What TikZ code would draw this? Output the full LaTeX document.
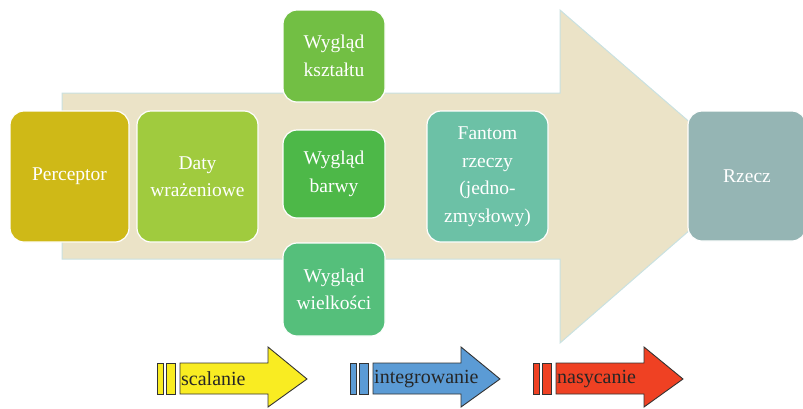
\documentclass[tikz,border=0pt]{standalone}
\usepackage{fontspec}
\setmainfont{Liberation Serif}
\definecolor{cPerc}{HTML}{CFB917}
\definecolor{cDaty}{HTML}{A0CB3E}
\definecolor{cKsz}{HTML}{72BF44}
\definecolor{cBar}{HTML}{4DB848}
\definecolor{cWiel}{HTML}{55BF7B}
\definecolor{cFan}{HTML}{6CC1A6}
\definecolor{cRz}{HTML}{95B5B4}
\definecolor{cBig}{HTML}{EBE3C7}
\definecolor{cBigE}{HTML}{C9E1E1}
\definecolor{cYel}{HTML}{F9EC22}
\definecolor{cBlu}{HTML}{5B9BD5}
\definecolor{cRed}{HTML}{EF4123}
\begin{document}
\begin{tikzpicture}[x=1pt,y=-1pt,
  box/.style={draw=white,line width=1.2pt,rounded corners=14pt,text=white,
    font=\fontsize{19.5}{27.5}\selectfont,align=center,inner sep=0pt},
  lbl/.style={font=\fontsize{20}{22}\selectfont,text=black!85,inner sep=0pt,anchor=west},
  barr/.style={draw=black!80,line width=0.9pt}]
\useasboundingbox (0,0) rectangle (803,408);
% big arrow
\fill[cBig,draw=cBigE,line width=1pt] (62,93) -- (560,93) -- (560,10) -- (752,176) -- (560,343) -- (560,259) -- (62,259) -- cycle;
% boxes
\node[box,fill=cPerc,minimum width=119pt,minimum height=131pt] (perc) at (69.5,176.5) {Perceptor};
\node[box,fill=cDaty,minimum width=121pt,minimum height=131pt] (daty) at (197.5,176.5) {Daty\\wrażeniowe};
\node[box,fill=cKsz,minimum width=102pt,minimum height=92pt] (ksz) at (334,56) {Wygląd\\kształtu};
\node[box,fill=cBar,minimum width=102pt,minimum height=88pt] (bar) at (334,174) {Wygląd\\barwy};
\node[box,fill=cWiel,minimum width=102pt,minimum height=93pt] (wiel) at (334,289.5) {Wygląd\\wielkości};
\node[box,fill=cFan,minimum width=121pt,minimum height=131pt] (fan) at (487.5,176.5) {Fantom\\rzeczy\\(jedno-\\zmysłowy)};
\node[box,fill=cRz,minimum width=118pt,minimum height=130pt] (rz) at (747,176) {Rzecz};
% small arrows
\foreach \x/\c/\n/\t in {157/cYel/sc/scalanie,350/cBlu/in/integrowanie,533/cRed/na/nasycanie}{
  \filldraw[barr,fill=\c] (\x,363) rectangle ++(6,31);
  \filldraw[barr,fill=\c] (\x+9,363) rectangle ++(9,31);
  \filldraw[barr,fill=\c] (\x+23,363) -- (\x+111,363) -- (\x+111,347) -- (\x+150,379) -- (\x+111,407) -- (\x+111,394) -- (\x+23,394) -- cycle;
  \node[lbl] (\n) at (\x+24,379) {\t};
}
\end{tikzpicture}
\end{document}
